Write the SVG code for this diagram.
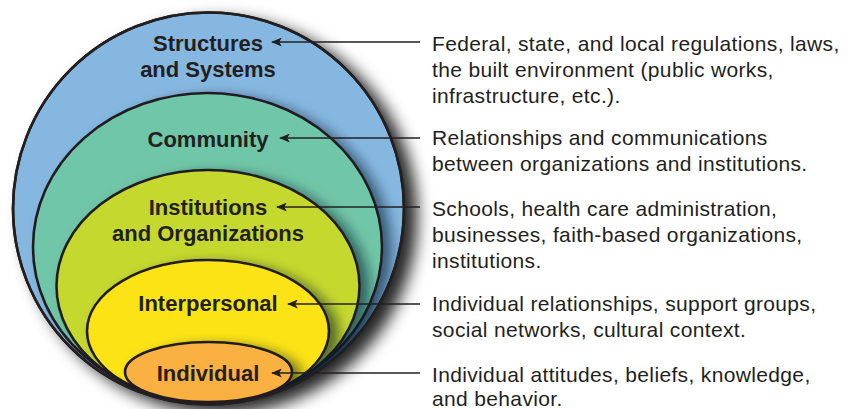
<svg xmlns="http://www.w3.org/2000/svg" width="856" height="409" viewBox="0 0 856 409">
<defs>
<style>
.ring{stroke:#231f20;stroke-width:2.6}
.lbl{font-family:"Liberation Sans",Arial,sans-serif;font-weight:bold;font-size:22px;fill:#231f20;text-anchor:middle}
.desc{font-family:"Liberation Sans",Arial,sans-serif;font-size:21px;letter-spacing:0.35px;fill:#231f20}
.arr{stroke:#231f20;stroke-width:1.6;fill:none;marker-end:url(#ah)}
</style>
<marker id="ah" viewBox="0 0 12 10" refX="11" refY="5" markerWidth="12" markerHeight="9" markerUnits="userSpaceOnUse" orient="auto">
<path d="M0,0 L12,5 L0,10 L3,5 Z" fill="#231f20"/>
</marker>
<filter id="sh" x="-20%" y="-20%" width="150%" height="150%">
<feGaussianBlur in="SourceAlpha" stdDeviation="8"/>
<feOffset dx="12" dy="8" result="b"/>
<feFlood flood-color="#000" flood-opacity="0.85"/>
<feComposite in2="b" operator="in"/>
<feMerge><feMergeNode/><feMergeNode in="SourceGraphic"/></feMerge>
</filter>
<filter id="shi" x="-20%" y="-20%" width="150%" height="150%">
<feGaussianBlur in="SourceAlpha" stdDeviation="6"/>
<feOffset dx="9" dy="4" result="b"/>
<feFlood flood-color="#0a1a2a" flood-opacity="0.55"/>
<feComposite in2="b" operator="in"/>
<feMerge><feMergeNode/><feMergeNode in="SourceGraphic"/></feMerge>
</filter>
<clipPath id="outerclip"><ellipse cx="208.5" cy="208.5" rx="195.5" ry="196"/></clipPath>
</defs>
<g id="structures">
<ellipse class="ring" cx="208.5" cy="208.5" rx="195.5" ry="196" fill="#85b7e0" filter="url(#sh)"/>
</g>
<g clip-path="url(#outerclip)">
<g id="community">
<ellipse class="ring" cx="207.5" cy="247" rx="174.5" ry="154" fill="#6fc6a8" filter="url(#shi)"/>
</g>
<g id="institutions">
<ellipse class="ring" cx="208" cy="286" rx="151.5" ry="116" fill="#c5d82f" filter="url(#shi)"/>
</g>
<g id="interpersonal">
<ellipse class="ring" cx="208" cy="331" rx="121" ry="71" fill="#fbe319" filter="url(#shi)"/>
</g>
<g id="individual">
<ellipse class="ring" cx="208.5" cy="372" rx="83.5" ry="30" fill="#fbb142" filter="url(#shi)"/>
</g>
</g>
<ellipse cx="208.5" cy="208.5" rx="195.5" ry="196" fill="none" stroke="#231f20" stroke-width="2.6"/>
<g id="labels">
<text class="lbl" x="208" y="51">Structures</text>
<text class="lbl" x="208" y="77">and Systems</text>
<text class="lbl" x="208" y="147">Community</text>
<text class="lbl" x="208" y="215">Institutions</text>
<text class="lbl" x="208" y="241">and Organizations</text>
<text class="lbl" x="208" y="311">Interpersonal</text>
<text class="lbl" x="208" y="381">Individual</text>
</g>
<g id="connectors">
<line class="arr" x1="420" y1="42" x2="272" y2="42"/>
<line class="arr" x1="420" y1="138" x2="280" y2="138"/>
<line class="arr" x1="420" y1="207" x2="277" y2="207"/>
<line class="arr" x1="420" y1="304" x2="288" y2="304"/>
<line class="arr" x1="420" y1="373" x2="272" y2="373"/>
</g>
<g id="descriptions">
<text class="desc" x="432" y="51">Federal, state, and local regulations, laws,</text>
<text class="desc" x="432" y="77">the built environment (public works,</text>
<text class="desc" x="432" y="103">infrastructure, etc.).</text>
<text class="desc" x="432" y="145">Relationships and communications</text>
<text class="desc" x="432" y="171">between organizations and institutions.</text>
<text class="desc" x="432" y="216">Schools, health care administration,</text>
<text class="desc" x="432" y="242">businesses, faith-based organizations,</text>
<text class="desc" x="432" y="268">institutions.</text>
<text class="desc" x="432" y="311">Individual relationships, support groups,</text>
<text class="desc" x="432" y="337">social networks, cultural context.</text>
<text class="desc" x="432" y="382">Individual attitudes, beliefs, knowledge,</text>
<text class="desc" x="432" y="406">and behavior.</text>
</g>
</svg>
